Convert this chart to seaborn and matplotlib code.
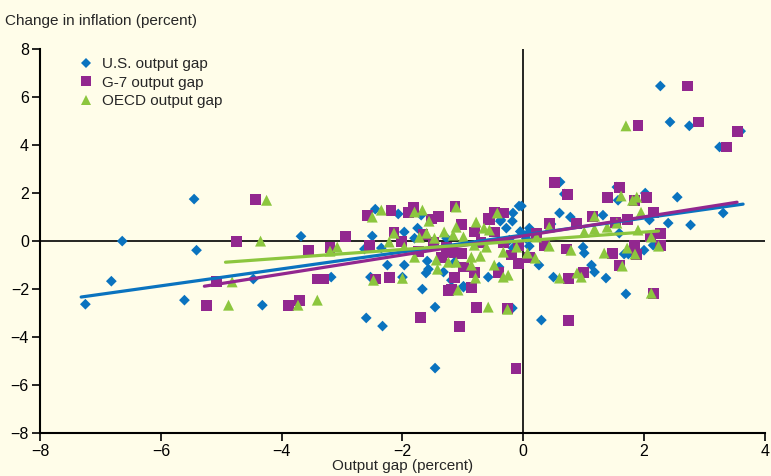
import numpy as np
import pandas as pd
import matplotlib
matplotlib.use('Agg')
import matplotlib.pyplot as plt
import seaborn as sns

# points (output gap, change in inflation)
us_x = [-7.25, -6.82, -6.64, -5.61, -5.45, -5.41, -4.47, -4.32, -3.68, -3.18,
        -1.46, -2.60, -2.33, -1.46, 0.30, 1.70, 2.27, 2.43, 2.75, 3.60, 3.25,
        0.61, 0.68, 1.55, 1.57, 2.02, 2.55, 0.60, 0.78, 1.32, 2.09, 2.40, 2.77,
        3.31, 0.46, 1.59, 2.15, 2.00, 1.67, 1.74, 1.13, 1.18, 0.50, 1.37, 0.99,
        1.01, 0.10, 0.26, 0.10, 0.08, -0.03, -2.53, -2.00, -2.25, -1.97, -2.50,
        -2.45, -2.07, -1.69, -0.07, -0.17, -0.18, -0.38, -1.67, -0.99, -0.18,
        -1.97, -2.35, -2.63, -1.80, -1.75, -1.59, -1.57, -1.61, -0.28, -0.37,
        -0.23, -0.17, -1.14, -0.58, -1.32, -1.19, -0.99, -1.27, -0.40, -0.05, 0.05]
us_y = [-2.63, -1.67, 0.00, -2.46, 1.75, -0.38, -1.58, -2.67, 0.20, -1.50,
        -5.29, -3.20, -3.54, -2.75, -3.29, -2.20, 6.46, 4.96, 4.80, 4.58, 3.92,
        2.46, 1.96, 2.25, 1.70, 2.00, 1.83, 1.17, 1.00, 1.08, 0.88, 0.75, 0.67,
        1.17, 0.71, 0.33, -0.17, -0.38, -0.54, -0.54, -1.00, -1.29, -1.50, -1.54, -0.25,
        -0.50, -0.21, -1.00, 0.54, 0.33, 1.46, -1.50, -1.50, -1.00, -1.00, 0.21,
        1.33, 1.13, 1.08, 1.46, 1.17, 0.83, 0.83, -2.00, -1.88, -2.79,
        0.38, -0.29, -0.33, 0.12, 0.54, -0.83, -1.17, -1.33, 0.54, 0.88,
        0.04, -0.29, -0.88, -1.50, -1.29, -1.63, -1.92, 0.12, -1.08, 0.40, 0.10]

g7_x = [-5.25, -5.08, -4.75, -4.44, -3.89, -3.71, -3.56, -3.40, -3.31, -3.20,
        -2.95, -0.12, -1.70, -1.06, 0.75, 2.15, 2.72, 1.90, 2.90, 3.54, 3.36,
        0.52, 0.73, 1.39, 1.59, 1.84, 2.04, 1.14, 2.15, 1.52, 1.72, 0.88, 2.28,
        2.10, 2.28, 1.84, 1.87, 1.47, 1.59, 0.99, 0.75, 0.71, 0.35, 0.10, 0.22,
        0.43, -2.45, -2.22, -2.55, -2.58, -2.19, -1.90, -1.82, -1.41, -1.13,
        -0.48, -0.33, -0.56, -1.19, -0.86, -0.78, -0.26, -1.52, -2.14, -2.02,
        -1.66, -1.49, -1.74, -1.36, -1.03, -0.58, -0.48, -0.81, -0.33, -0.08,
        -0.20, -0.70, -1.03, -1.19, -0.99, -0.81, -0.41, -1.14, -1.23, -1.27, -0.08]
g7_y = [-2.67, -1.67, 0.00, 1.75, -2.67, -2.46, -0.38, -1.58, -1.58, -0.25,
        0.20, -5.29, -3.20, -3.54, -3.29, -2.17, 6.46, 4.80, 4.96, 4.58, 3.92,
        2.46, 1.96, 1.83, 2.25, 1.70, 1.83, 1.04, 1.20, 0.79, 0.88, 0.75, 0.33,
        0.17, -0.17, -0.17, -0.54, -0.50, -1.00, -1.29, -1.54, -0.33, -0.17, -0.67, 0.33,
        0.75, -1.58, -1.50, -0.17, 1.08, 1.29, 1.21, 1.38, 1.04, 1.46,
        1.21, 1.17, 0.88, -2.00, -1.92, -2.75, -2.79, 0.92, 0.38, 0.00,
        0.29, -0.04, -0.42, -0.67, 0.71, 0.96, 0.38, 0.38, -0.08, -0.17,
        -0.58, -0.04, -0.50, -0.46, -1.08, -1.29, -1.29, -1.50, -2.04, -0.25, -0.92]

oecd_x = [-4.88, -4.82, -4.35, -4.25, -3.73, -3.41, -3.20, -3.08, 2.12, 1.70,
          1.62, 1.81, 1.88, 1.18, 1.95, 1.55, 1.39, 1.01, 1.18, 1.90, 2.12, 2.24,
          1.72, 1.85, 1.34, 1.64, 0.89, 0.96, 0.60, 0.79, 0.43, 0.07, 0.20, 0.22,
          0.43, -2.48, -2.00, -2.50, -2.35, -1.80, -1.67, -1.56, -1.11, -0.43,
          -1.08, -0.58, -0.26, -2.14, -2.22, -1.97, -1.72, -1.60, -1.47, -1.31,
          -1.80, -1.42, -1.44, -1.11, -0.78, -0.65, -0.56, -1.16, -0.99, -0.33,
          -0.11, -0.81, -0.61, -0.86, -0.71, -1.24, -1.11, -0.86, -0.48, -0.25,
          -0.33, -0.79]
oecd_y = [-2.67, -1.70, 0.00, 1.70, -2.67, -2.46, -0.42, -0.25, -2.17, 4.80,
          1.88, 1.70, 1.83, 1.04, 1.20, 0.75, 0.58, 0.38, 0.50, 0.46, 0.17, -0.21,
          -0.29, -0.54, -0.50, -1.04, -1.33, -1.50, -1.54, -0.38, -0.21, -0.50, -0.71, 0.17,
          0.58, -1.63, -1.55, 1.00, 1.29, 1.21, 1.29, 0.83, 1.42, 1.17,
          -2.04, -2.75, -2.84, 0.33, -0.04, -0.25, 0.16, 0.33, 0.12, 0.38,
          -0.67, -1.17, -0.79, 0.58, 0.79, 0.54, 0.46, 0.25, 0.17, -0.46,
          -0.25, -0.17, -0.25, -0.67, -0.63, -0.88, -0.88, -1.00, -1.00, -1.42,
          -1.50, -1.54]

# fitted lines (end points)
us_fit_x = [-7.32, 3.64]
us_fit_y = [-2.33, 1.54]
g7_fit_x = [-5.28, 3.54]
g7_fit_y = [-1.88, 1.62]
oecd_fit_x = [-4.93, 2.24]
oecd_fit_y = [-0.88, 0.42]

names = ['U.S. output gap', 'G-7 output gap', 'OECD output gap']
colors = ['#0a73bf', '#92278f', '#8cc63e']
bg = '#fffde9'

df = pd.concat([
    pd.DataFrame({'gap': us_x, 'infl': us_y, 'series': names[0]}),
    pd.DataFrame({'gap': g7_x, 'infl': g7_y, 'series': names[1]}),
    pd.DataFrame({'gap': oecd_x, 'infl': oecd_y, 'series': names[2]}),
], ignore_index=True)

sns.set_style('ticks')
plt.rcParams['font.family'] = ['Liberation Sans', 'DejaVu Sans']

fig = plt.figure(figsize=(7.71, 4.76), dpi=100, facecolor=bg)
ax = fig.add_axes([0.052, 0.090, 0.940, 0.807])
ax.set_facecolor(bg)

sns.scatterplot(data=df, x='gap', y='infl', hue='series', style='series', size='series',
                hue_order=names, style_order=names, size_order=names,
                palette=dict(zip(names, colors)),
                markers=dict(zip(names, ['D', 's', '^'])),
                sizes=dict(zip(names, [30, 62, 62])),
                linewidth=0, ax=ax, zorder=3)

ax.axhline(0, color='black', lw=1.2, zorder=1)
ax.axvline(0, color='black', lw=1.2, zorder=1)

for fx, fy, c in [(us_fit_x, us_fit_y, colors[0]), (g7_fit_x, g7_fit_y, colors[1]),
                  (oecd_fit_x, oecd_fit_y, colors[2])]:
    sns.lineplot(x=fx, y=fy, color=c, lw=2.3, ax=ax, legend=False, zorder=4)

ax.set_xlim(-8, 4)
ax.set_ylim(-8, 8)
ax.set_xticks(range(-8, 5, 2))
ax.set_yticks(range(-8, 9, 2))
ax.tick_params(direction='out', length=6, width=1.2, labelsize=11.5, colors='black', pad=2)
for s in ['top', 'right']:
    ax.spines[s].set_visible(False)
for s in ['left', 'bottom']:
    ax.spines[s].set_linewidth(1.5)
    ax.spines[s].set_color('black')

ax.set_xlabel('Output gap (percent)', fontsize=11, labelpad=0)
ax.set_ylabel('')
fig.text(0.006, 0.955, 'Change in inflation (percent)', fontsize=11, va='center', ha='left')

handles, labels = ax.get_legend_handles_labels()
keep = [(h, l) for h, l in zip(handles, labels) if l in names]
ax.legend([h for h, _ in keep], [l for _, l in keep], loc='upper left',
          bbox_to_anchor=(0.045, 0.995), frameon=False, fontsize=11,
          handlelength=1.0, handletextpad=0.5, labelspacing=0.3, borderaxespad=0.0)

fig.savefig('out.png', dpi=100, facecolor=bg)
